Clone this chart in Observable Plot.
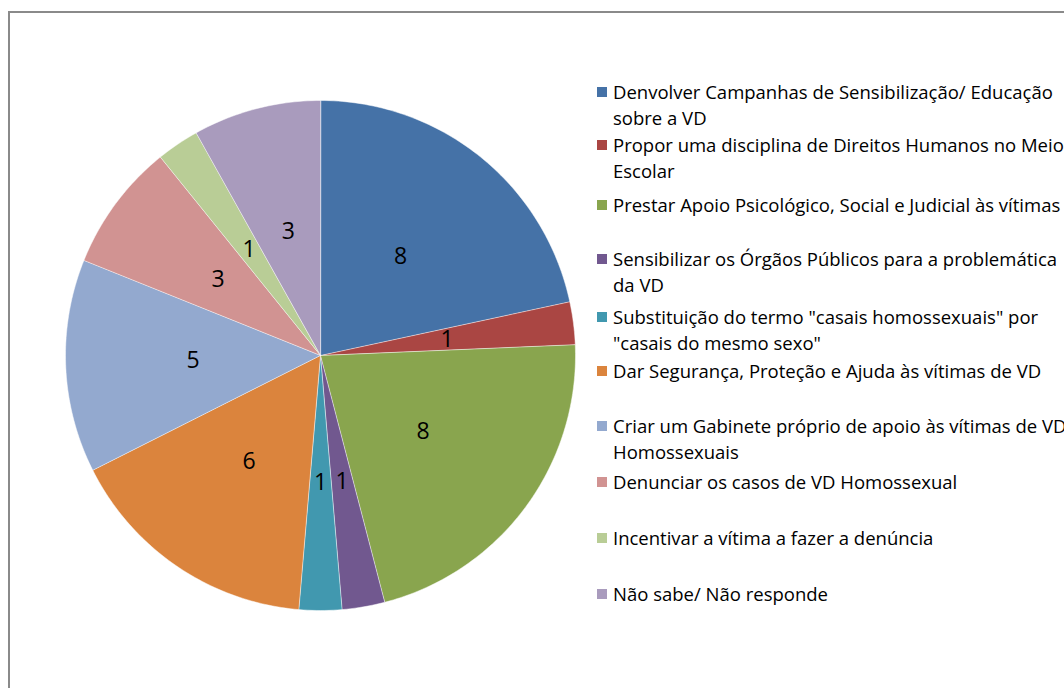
<!DOCTYPE html>
<html>
<head>
<meta charset="utf-8">
<script src="https://cdn.jsdelivr.net/npm/d3@7"></script>
<script src="https://cdn.jsdelivr.net/npm/@observablehq/plot@0.6"></script>
<style>
  html, body { margin: 0; padding: 0; background: #fff; overflow: hidden; }
  #wrap { position: relative; width: 1064px; height: 688px; overflow: hidden; font-family: "Open Sans", sans-serif; }
  #border { position: absolute; left: 8px; top: 11px; width: 1200px; height: 800px; border-left: 2px solid #8a8a8a; border-top: 2px solid #8a8a8a; box-sizing: border-box; }
  #chart { position: absolute; left: 0; top: 0; }
  #legend { position: absolute; left: 597px; top: 0; white-space: nowrap; font-size: 18.5px; color: #000; }
  .item { position: absolute; left: 0; }
  .sw { position: absolute; left: 0; width: 10px; height: 10px; }
  .txt { position: absolute; left: 16px; line-height: 26px; }
</style>
</head>
<body>
<div id="wrap">
  <div id="border"></div>
  <div id="chart"></div>
  <div id="legend"></div>
</div>
<script>
// ---- data ----
const categories = [
  "Denvolver Campanhas de Sensibilização/ Educação sobre a VD",
  "Propor uma disciplina de Direitos Humanos no Meio Escolar",
  "Prestar Apoio Psicológico, Social e Judicial às vítimas",
  "Sensibilizar os Órgãos Públicos para a problemática da VD",
  "Substituição do termo \"casais homossexuais\" por \"casais do mesmo sexo\"",
  "Dar Segurança, Proteção e Ajuda às vítimas de VD",
  "Criar um Gabinete próprio de apoio às vítimas de VD Homossexuais",
  "Denunciar os casos de VD Homossexual",
  "Incentivar a vítima a fazer a denúncia",
  "Não sabe/ Não responde"
];
const legendLines = [
  ["Denvolver Campanhas de Sensibilização/ Educação", "sobre a VD"],
  ["Propor uma disciplina de Direitos Humanos no Meio", "Escolar"],
  ["Prestar Apoio Psicológico, Social e Judicial às vítimas"],
  ["Sensibilizar os Órgãos Públicos para a problemática", "da VD"],
  ["Substituição do termo \"casais homossexuais\" por", "\"casais do mesmo sexo\""],
  ["Dar Segurança, Proteção e Ajuda às vítimas de VD"],
  ["Criar um Gabinete próprio de apoio às vítimas de VD", "Homossexuais"],
  ["Denunciar os casos de VD Homossexual"],
  ["Incentivar a vítima a fazer a denúncia"],
  ["Não sabe/ Não responde"]
];
const values = [8, 1, 8, 1, 1, 6, 5, 3, 1, 3];
const colors = ["#4572A7", "#AA4643", "#89A54E", "#71588F", "#4198AF",
                "#DB843D", "#93A9CF", "#D19392", "#B9CD96", "#A99BBD"];

// ---- geometry from data (pie layout) ----
const arcs = d3.pie().sort(null).value(d => d.value)(
  categories.map((c, i) => ({category: c, value: values[i]}))
);
const slices = arcs.map(a => {
  const n = Math.max(4, Math.ceil((a.endAngle - a.startAngle) / (Math.PI / 180)));
  const ring = [[0, 0]];
  for (let k = 0; k <= n; k++) {
    const t = a.startAngle + (a.endAngle - a.startAngle) * k / n;
    ring.push([Math.sin(t), -Math.cos(t)]);
  }
  ring.push([0, 0]);
  return {type: "Feature", properties: {category: a.data.category, value: a.data.value}, geometry: {type: "Polygon", coordinates: [ring]}};
});
const labels = arcs.map(a => {
  const m = (a.startAngle + a.endAngle) / 2;
  return {x: 0.5 * Math.sin(m), y: -0.5 * Math.cos(m), value: a.data.value};
});

const domain = {type: "Polygon", coordinates: [[[-1, -1], [1, -1], [1, 1], [-1, 1], [-1, -1]]]};

const chart = Plot.plot({
  width: 1064,
  height: 688,
  marginLeft: 65,
  marginRight: 489,
  marginTop: 100,
  marginBottom: 78,
  projection: {type: "identity", domain},
  color: {domain: categories, range: colors},
  style: {background: "transparent", fontFamily: "Open Sans, sans-serif"},
  marks: [
    Plot.geo(slices, {fill: d => d.properties.category, stroke: "#ffffff", strokeWidth: 0.6, strokeOpacity: 0.8}),
    Plot.text(labels, {x: "x", y: "y", text: d => String(d.value), fontSize: 23, fill: "#000"})
  ]
});
document.getElementById("chart").appendChild(chart);

// ---- legend ----
const legendTop = [79, 132, 192, 246, 304, 358, 413, 469, 525, 581];
const legend = document.getElementById("legend");
categories.forEach((c, i) => {
  const item = document.createElement("div");
  item.className = "item";
  item.style.top = legendTop[i] + "px";
  const sw = document.createElement("div");
  sw.className = "sw";
  sw.style.background = colors[i];
  sw.style.top = "8px";
  const tx = document.createElement("div");
  tx.className = "txt";
  tx.innerHTML = legendLines[i].map(s => s.replace(/&/g, "&amp;").replace(/</g, "&lt;")).join("<br>");
  item.appendChild(sw);
  item.appendChild(tx);
  legend.appendChild(item);
});
</script>
</body>
</html>
